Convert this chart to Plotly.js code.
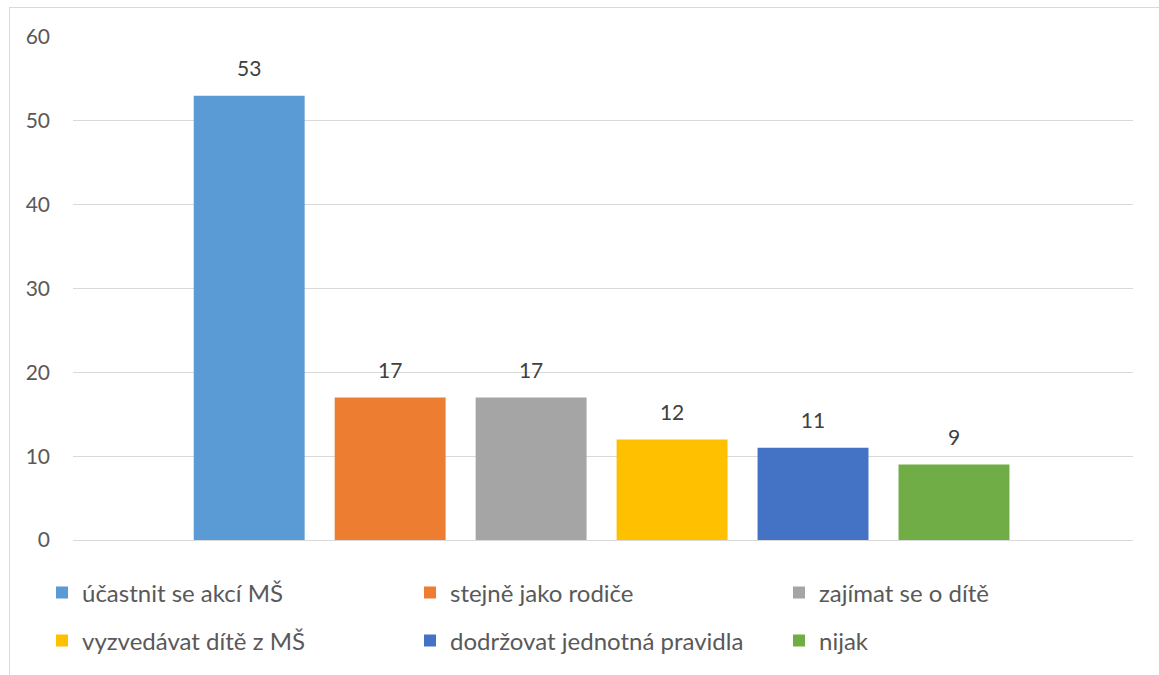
<!DOCTYPE html>
<html><head><meta charset="utf-8">
<script src="https://cdn.plot.ly/plotly-3.0.1.min.js"></script>
<style>
html,body{margin:0;padding:0;background:#fff;}
#chart{position:absolute;left:0;top:0;width:1159px;height:675px;}
#frame{position:absolute;left:9px;top:7px;width:1160px;height:690px;border:1px solid #d9d9d9;pointer-events:none;}
</style></head>
<body>
<div id="chart"></div>
<div id="frame"></div>
<script>
const seriesNames = ["účastnit se akcí MŠ","stejně jako rodiče","zajímat se o dítě","vyzvedávat dítě z MŠ","dodržovat jednotná pravidla","nijak"];
const seriesValues = [53,17,17,12,11,9];
const seriesColors = ["#5B9BD5","#ED7D31","#A5A5A5","#FFC000","#4472C4","#70AD47"];
const yTicks = [0,10,20,30,40,50,60];

const FONT = "Lato, 'Open Sans', sans-serif";
const legendIds = ['legend','legend2','legend3','legend4','legend5','legend6'];
const traces = seriesNames.map((n,i)=>({
  type:'bar', name:n, x:[n], y:[seriesValues[i]],
  marker:{color:seriesColors[i]},
  legend: legendIds[i],
  hoverinfo:'skip'
}));
traces.push({
  type:'scatter', mode:'markers+text', x:seriesNames, y:seriesValues,
  text:seriesValues.map(String), textposition:'top center',
  marker:{size:21, opacity:0},
  textfont:{family:FONT,size:21,color:'#404040'},
  showlegend:false, hoverinfo:'skip', cliponaxis:false
});
const legendCommon = {
  orientation:'h', xref:'container', yref:'container', xanchor:'left', yanchor:'middle',
  bgcolor:'rgba(0,0,0,0)',
  font:{family:FONT,size:24,color:'#595959'}, traceorder:'normal'
};
// legend grid: 3 columns x 2 rows (layout only)
const colX = [42, 410, 779];
const rowY = [593, 641];
const layout = {
  width:1159, height:675,
  margin:{l:73,r:26,t:37,b:135},
  paper_bgcolor:'#fff', plot_bgcolor:'#fff',
  barmode:'overlay', bargap:0.213,
  showlegend:true,
  xaxis:{type:'category', range:[-1.25,6.27], showticklabels:false, showgrid:false, zeroline:false, showline:false, fixedrange:true},
  yaxis:{range:[0,60], tickvals:yTicks, ticktext:yTicks.map(String), gridcolor:'#d9d9d9', gridwidth:1,
         zeroline:true, zerolinecolor:'#d9d9d9', zerolinewidth:1, showline:false,
         ticklabelstandoff:22, tickfont:{family:FONT,size:21,color:'#595959'}},
  font:{family:FONT}
};
legendIds.forEach((id,i)=>{
  layout[id] = Object.assign({x:colX[i%3]/1159, y:1-rowY[Math.floor(i/3)]/675}, legendCommon);
});
Plotly.newPlot('chart', traces, layout, {staticPlot:true});
</script>
</body></html>
